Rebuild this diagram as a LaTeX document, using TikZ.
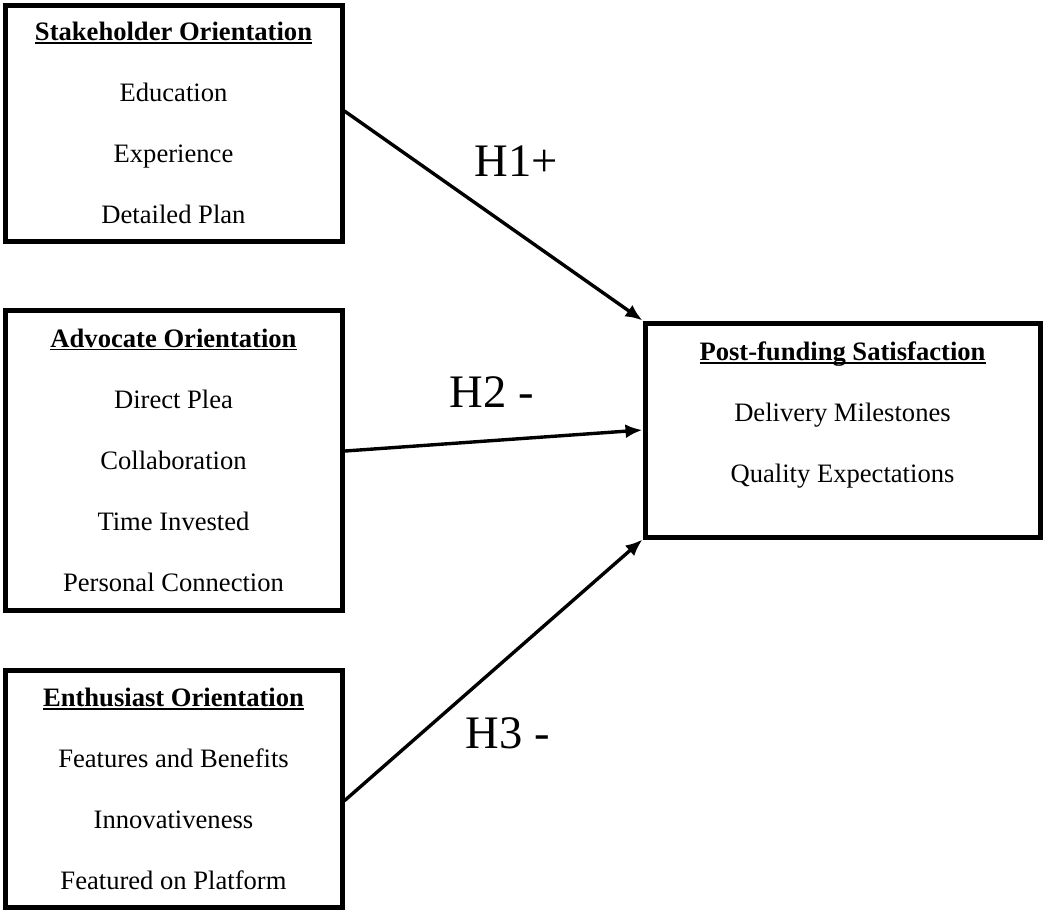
\documentclass[tikz,border=0pt]{standalone}
\usepackage{fontspec}
\setmainfont{Liberation Serif}
\usetikzlibrary{arrows.meta, positioning}
\newsavebox{\headbox}
\newcommand{\headtext}[1]{\sbox{\headbox}{\textbf{#1}}\rlap{\rule[-1.6pt]{\wd\headbox}{0.9pt}}\usebox{\headbox}}

\begin{document}
\begin{tikzpicture}[x=0.5pt, y=-0.5pt, box/.style={draw, line width=2.5pt, align=center, font=\fontsize{13.3}{30.5}\selectfont}, hyp/.style={font=\fontsize{23.3}{28}\selectfont}, link/.style={->, line width=1.7pt}, >={Latex[length=8.5pt, width=7pt]}]
\useasboundingbox (0,0) rectangle (1044,911);
\node[box, minimum width=168.5pt, minimum height=118pt] (stake) at (173.5,123) {\headtext{Stakeholder Orientation}\\Education\\Experience\\Detailed Plan};
\node[box, minimum width=168.5pt, minimum height=150pt, below=32pt of stake] (adv) {\headtext{Advocate Orientation}\\Direct Plea\\Collaboration\\Time Invested\\Personal Connection};
\node[box, minimum width=168.5pt, minimum height=118.5pt, below=27.6pt of adv] (enth) {\headtext{Enthusiast Orientation}\\Features and Benefits\\Innovativeness\\Featured on Platform};
\node[box, minimum width=197.5pt, minimum height=107pt, right=149pt of adv, yshift=15pt] (sat) {\headtext{Post-funding Satisfaction}\\Delivery Milestones\\Quality Expectations\rule[-18pt]{0pt}{0pt}};
\node[hyp] (h1) at (516,161) {H1+};
\node[hyp] (h2) at (492,392) {H2 -};
\node[hyp] (h3) at (508,733) {H3 -};
\draw[link] (stake.4) -- (sat.north west);
\draw[link] (adv.3) -- (sat.west);
\draw[link] (enth.-4) -- (sat.south west);
\end{tikzpicture}
\end{document}
